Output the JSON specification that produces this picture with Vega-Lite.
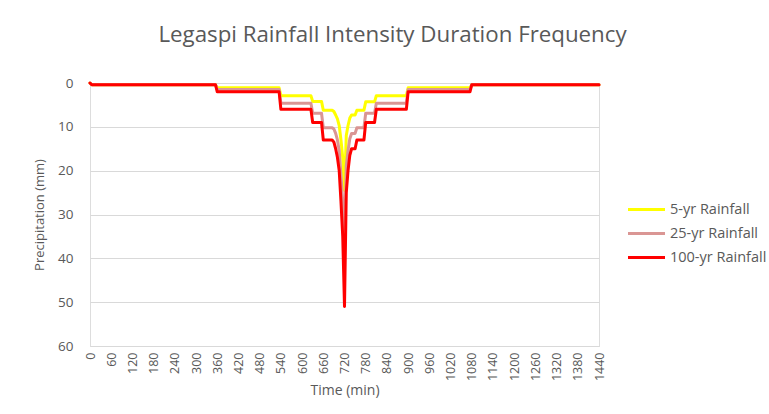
{
  "$schema": "https://vega.github.io/schema/vega-lite/v6.json",
  "width": 509,
  "height": 263,
  "autosize": {"type": "none"},
  "padding": {"left": 90, "top": 83, "right": 170, "bottom": 68},
  "background": "white",
  "title": {
    "text": "Legaspi Rainfall Intensity Duration Frequency",
    "font": "Open Sans",
    "fontSize": 22.3,
    "fontWeight": "normal",
    "color": "#595959",
    "anchor": "middle",
    "dx": 48,
    "offset": 30
  },
  "data": {
    "values": [
      {"t": 0, "series": "5-yr Rainfall", "v": 0},
      {"t": 5, "series": "5-yr Rainfall", "v": 0.4},
      {"t": 355, "series": "5-yr Rainfall", "v": 0.4},
      {"t": 360, "series": "5-yr Rainfall", "v": 1.1},
      {"t": 535, "series": "5-yr Rainfall", "v": 1.1},
      {"t": 540, "series": "5-yr Rainfall", "v": 2.9},
      {"t": 625, "series": "5-yr Rainfall", "v": 2.9},
      {"t": 630, "series": "5-yr Rainfall", "v": 4.2},
      {"t": 655, "series": "5-yr Rainfall", "v": 4.2},
      {"t": 660, "series": "5-yr Rainfall", "v": 6.2},
      {"t": 685, "series": "5-yr Rainfall", "v": 6.2},
      {"t": 690, "series": "5-yr Rainfall", "v": 6.5},
      {"t": 695, "series": "5-yr Rainfall", "v": 7.3},
      {"t": 700, "series": "5-yr Rainfall", "v": 8.2},
      {"t": 705, "series": "5-yr Rainfall", "v": 9.7},
      {"t": 710, "series": "5-yr Rainfall", "v": 13},
      {"t": 715, "series": "5-yr Rainfall", "v": 17},
      {"t": 720, "series": "5-yr Rainfall", "v": 24.5},
      {"t": 725, "series": "5-yr Rainfall", "v": 12},
      {"t": 730, "series": "5-yr Rainfall", "v": 9.7},
      {"t": 735, "series": "5-yr Rainfall", "v": 8},
      {"t": 740, "series": "5-yr Rainfall", "v": 7.3},
      {"t": 750, "series": "5-yr Rainfall", "v": 7.3},
      {"t": 755, "series": "5-yr Rainfall", "v": 6.2},
      {"t": 775, "series": "5-yr Rainfall", "v": 6.2},
      {"t": 780, "series": "5-yr Rainfall", "v": 4.3},
      {"t": 805, "series": "5-yr Rainfall", "v": 4.3},
      {"t": 810, "series": "5-yr Rainfall", "v": 2.9},
      {"t": 895, "series": "5-yr Rainfall", "v": 2.9},
      {"t": 900, "series": "5-yr Rainfall", "v": 1.1},
      {"t": 1075, "series": "5-yr Rainfall", "v": 1.1},
      {"t": 1080, "series": "5-yr Rainfall", "v": 0.4},
      {"t": 1440, "series": "5-yr Rainfall", "v": 0.4},
      {"t": 0, "series": "25-yr Rainfall", "v": 0},
      {"t": 5, "series": "25-yr Rainfall", "v": 0.4},
      {"t": 355, "series": "25-yr Rainfall", "v": 0.4},
      {"t": 360, "series": "25-yr Rainfall", "v": 1.5},
      {"t": 535, "series": "25-yr Rainfall", "v": 1.5},
      {"t": 540, "series": "25-yr Rainfall", "v": 4.6},
      {"t": 625, "series": "25-yr Rainfall", "v": 4.6},
      {"t": 630, "series": "25-yr Rainfall", "v": 6.9},
      {"t": 655, "series": "25-yr Rainfall", "v": 6.9},
      {"t": 660, "series": "25-yr Rainfall", "v": 10.2},
      {"t": 685, "series": "25-yr Rainfall", "v": 10.2},
      {"t": 690, "series": "25-yr Rainfall", "v": 10.5},
      {"t": 695, "series": "25-yr Rainfall", "v": 11.5},
      {"t": 700, "series": "25-yr Rainfall", "v": 13},
      {"t": 705, "series": "25-yr Rainfall", "v": 15.4},
      {"t": 710, "series": "25-yr Rainfall", "v": 21},
      {"t": 715, "series": "25-yr Rainfall", "v": 27},
      {"t": 720, "series": "25-yr Rainfall", "v": 39},
      {"t": 725, "series": "25-yr Rainfall", "v": 19},
      {"t": 730, "series": "25-yr Rainfall", "v": 15.4},
      {"t": 735, "series": "25-yr Rainfall", "v": 12.7},
      {"t": 740, "series": "25-yr Rainfall", "v": 11.5},
      {"t": 750, "series": "25-yr Rainfall", "v": 11.5},
      {"t": 755, "series": "25-yr Rainfall", "v": 10.2},
      {"t": 775, "series": "25-yr Rainfall", "v": 10.2},
      {"t": 780, "series": "25-yr Rainfall", "v": 6.9},
      {"t": 805, "series": "25-yr Rainfall", "v": 6.9},
      {"t": 810, "series": "25-yr Rainfall", "v": 4.6},
      {"t": 895, "series": "25-yr Rainfall", "v": 4.6},
      {"t": 900, "series": "25-yr Rainfall", "v": 1.5},
      {"t": 1075, "series": "25-yr Rainfall", "v": 1.5},
      {"t": 1080, "series": "25-yr Rainfall", "v": 0.4},
      {"t": 1440, "series": "25-yr Rainfall", "v": 0.4},
      {"t": 0, "series": "100-yr Rainfall", "v": 0},
      {"t": 5, "series": "100-yr Rainfall", "v": 0.4},
      {"t": 355, "series": "100-yr Rainfall", "v": 0.4},
      {"t": 360, "series": "100-yr Rainfall", "v": 2},
      {"t": 535, "series": "100-yr Rainfall", "v": 2},
      {"t": 540, "series": "100-yr Rainfall", "v": 6},
      {"t": 625, "series": "100-yr Rainfall", "v": 6},
      {"t": 630, "series": "100-yr Rainfall", "v": 9},
      {"t": 655, "series": "100-yr Rainfall", "v": 9},
      {"t": 660, "series": "100-yr Rainfall", "v": 13},
      {"t": 685, "series": "100-yr Rainfall", "v": 13},
      {"t": 690, "series": "100-yr Rainfall", "v": 13.5},
      {"t": 695, "series": "100-yr Rainfall", "v": 15},
      {"t": 700, "series": "100-yr Rainfall", "v": 17},
      {"t": 705, "series": "100-yr Rainfall", "v": 20},
      {"t": 710, "series": "100-yr Rainfall", "v": 27},
      {"t": 715, "series": "100-yr Rainfall", "v": 35},
      {"t": 720, "series": "100-yr Rainfall", "v": 51},
      {"t": 725, "series": "100-yr Rainfall", "v": 25},
      {"t": 730, "series": "100-yr Rainfall", "v": 20},
      {"t": 735, "series": "100-yr Rainfall", "v": 16.5},
      {"t": 740, "series": "100-yr Rainfall", "v": 15},
      {"t": 750, "series": "100-yr Rainfall", "v": 15},
      {"t": 755, "series": "100-yr Rainfall", "v": 13},
      {"t": 775, "series": "100-yr Rainfall", "v": 13},
      {"t": 780, "series": "100-yr Rainfall", "v": 9},
      {"t": 805, "series": "100-yr Rainfall", "v": 9},
      {"t": 810, "series": "100-yr Rainfall", "v": 6},
      {"t": 895, "series": "100-yr Rainfall", "v": 6},
      {"t": 900, "series": "100-yr Rainfall", "v": 2},
      {"t": 1075, "series": "100-yr Rainfall", "v": 2},
      {"t": 1080, "series": "100-yr Rainfall", "v": 0.4},
      {"t": 1440, "series": "100-yr Rainfall", "v": 0.4}
    ]
  },
  "encoding": {
    "x": {
      "field": "t",
      "type": "quantitative",
      "scale": {"domain": [0, 1440], "nice": false},
      "axis": {
        "values": [0, 60, 120, 180, 240, 300, 360, 420, 480, 540, 600, 660, 720, 780, 840, 900, 960, 1020, 1080, 1140, 1200, 1260, 1320, 1380, 1440],
        "format": "d",
        "labelAngle": -90,
        "labelFont": "Open Sans",
        "labelFontSize": 12.5,
        "labelColor": "#595959",
        "labelPadding": 6,
        "labelOverlap": false,
        "labelFlush": false,
        "grid": false,
        "ticks": false,
        "domainColor": "#d9d9d9",
        "title": "Time (min)",
        "titleFont": "Open Sans",
        "titleFontSize": 14,
        "titleFontWeight": "normal",
        "titleColor": "#595959",
        "titlePadding": 3
      }
    },
    "y": {
      "field": "v",
      "type": "quantitative",
      "scale": {"domain": [0, 60], "reverse": true, "nice": false},
      "axis": {
        "values": [0, 10, 20, 30, 40, 50, 60],
        "grid": true,
        "gridColor": "#d9d9d9",
        "domain": false,
        "ticks": false,
        "labelFont": "Open Sans",
        "labelFontSize": 13.5,
        "labelColor": "#595959",
        "labelPadding": 17,
        "title": "Precipitation (mm)",
        "titleFont": "Open Sans",
        "titleFontSize": 13,
        "titleFontWeight": "normal",
        "titleColor": "#595959",
        "titlePadding": 11
      }
    },
    "color": {
      "field": "series",
      "type": "nominal",
      "scale": {
        "domain": ["5-yr Rainfall", "25-yr Rainfall", "100-yr Rainfall"],
        "range": ["#FFFF00", "#DA9694", "#FF0000"]
      },
      "legend": {
        "title": null,
        "orient": "none",
        "legendX": 545,
        "legendY": 115,
        "symbolType": "M-1.85,0H1.85",
        "symbolSize": 400,
        "symbolStrokeWidth": 3,
        "labelFont": "Open Sans",
        "labelFontSize": 14.5,
        "labelColor": "#595959",
        "labelOffset": 12,
        "rowPadding": 6
      }
    }
  },
  "layer": [
    {
      "transform": [{"filter": "datum.series === '5-yr Rainfall'"}],
      "mark": {"type": "line", "strokeWidth": 3, "strokeJoin": "round", "strokeCap": "round"}
    },
    {
      "transform": [{"filter": "datum.series === '25-yr Rainfall'"}],
      "mark": {"type": "line", "strokeWidth": 3, "strokeJoin": "round", "strokeCap": "round"}
    },
    {
      "transform": [{"filter": "datum.series === '100-yr Rainfall'"}],
      "mark": {"type": "line", "strokeWidth": 3, "strokeJoin": "round", "strokeCap": "round"}
    }
  ]
}
